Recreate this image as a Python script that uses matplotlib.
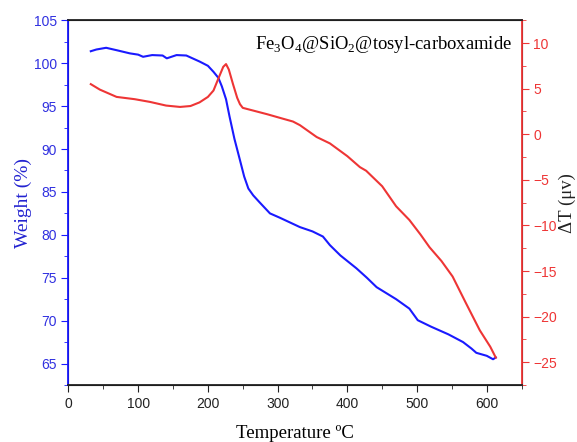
import matplotlib
matplotlib.use("Agg")
import matplotlib.pyplot as plt
from matplotlib.ticker import MultipleLocator

# weight loss curve (TGA)
temp_w = [32, 40, 54, 70, 88, 100, 107, 120, 135, 141, 155, 169, 188, 200,
          208, 215, 220, 226, 231, 238, 246, 252, 258, 265, 274, 289, 303,
          332, 350, 365, 375, 390, 413, 428, 442, 456, 470, 489, 501, 520,
          545, 566, 578, 585, 600, 609, 613]
weight = [101.4, 101.6, 101.8, 101.5, 101.15, 101.0, 100.75, 100.95, 100.9,
          100.57, 100.95, 100.9, 100.2, 99.7, 99.0, 98.3, 97.3, 95.8, 93.8,
          91.2, 88.7, 86.8, 85.4, 84.6, 83.8, 82.5, 82.0, 80.9, 80.4, 79.8,
          78.8, 77.6, 76.1, 75.0, 73.9, 73.2, 72.5, 71.4, 70.05, 69.3, 68.4,
          67.5, 66.75, 66.25, 65.9, 65.5, 65.7]

# DTA curve
temp_dt = [32, 45, 69, 95, 117, 140, 160, 175, 188, 200, 208, 216, 222, 226,
           230, 236, 242, 246, 250, 265, 285, 308, 322, 332, 356, 375, 400,
           418, 427, 450, 470, 489, 505, 518, 535, 551, 570, 590, 605, 613]
delta_t = [5.5, 4.9, 4.1, 3.85, 3.55, 3.15, 3.0, 3.1, 3.5, 4.1, 4.8, 6.3, 7.4,
           7.7, 7.1, 5.5, 4.0, 3.3, 2.9, 2.6, 2.2, 1.7, 1.4, 1.0, -0.3, -1.0,
           -2.4, -3.6, -4.0, -5.7, -7.9, -9.4, -11.0, -12.4, -13.9, -15.6,
           -18.5, -21.5, -23.3, -24.5]

blue = "#1a1aff"
blue_txt = "#3030e0"
red = "#ee3535"

plt.rcParams["mathtext.fontset"] = "custom"
plt.rcParams["mathtext.rm"] = "Liberation Serif"

fig = plt.figure(figsize=(5.77, 4.42), dpi=100)
ax = fig.add_axes([0.1187, 0.129, 0.904 - 0.1187, 0.954 - 0.129])
ax2 = ax.twinx()

ax.plot(temp_w, weight, color=blue, lw=1.5)
ax2.plot(temp_dt, delta_t, color=red, lw=1.5)

ax.set_xlim(0, 650)
ax.set_ylim(62.5, 105)
ax2.set_ylim(-27.5, 12.5)

ax.xaxis.set_major_locator(MultipleLocator(100))
ax.xaxis.set_minor_locator(MultipleLocator(50))
ax.yaxis.set_major_locator(MultipleLocator(5))
ax.yaxis.set_minor_locator(MultipleLocator(2.5))
ax2.yaxis.set_major_locator(MultipleLocator(5))
ax2.yaxis.set_minor_locator(MultipleLocator(2.5))

ax.tick_params(axis="x", which="both", direction="out", labelsize=10,
               labelcolor="#222222", colors="#222222")
ax.tick_params(axis="x", which="major", length=5)
ax.tick_params(axis="x", which="minor", length=3)
ax.tick_params(axis="y", which="both", direction="out", colors=blue,
               labelcolor=blue_txt, labelsize=10)
ax.tick_params(axis="y", which="major", length=5)
ax.tick_params(axis="y", which="minor", length=3)
ax2.tick_params(axis="y", which="both", direction="out", colors=red,
                labelcolor=red, labelsize=10)
ax2.tick_params(axis="y", which="major", length=5)
ax2.tick_params(axis="y", which="minor", length=3)

for t in ax.get_xticklabels() + ax.get_yticklabels() + ax2.get_yticklabels():
    t.set_fontfamily("Liberation Sans")

ax2.spines["left"].set_color(blue)
ax2.spines["right"].set_color(red)
ax2.spines["top"].set_color("#222222")
ax2.spines["bottom"].set_color("#222222")
for s in ax2.spines.values():
    s.set_linewidth(1.3)

ax.set_xlabel("Temperature ºC", fontfamily="Liberation Serif", fontsize=13.5,
              labelpad=10)
ax.set_ylabel("Weight (%)", fontfamily="Liberation Serif", fontsize=14,
              color="#2222d0", labelpad=1)
ax2.set_ylabel("ΔT (μv)", fontfamily="Liberation Serif", fontsize=13.5,
               color="#222222", labelpad=1)

ax.text(0.978, 0.935, r"Fe$_3$O$_4$@SiO$_2$@tosyl-carboxamide",
        transform=ax.transAxes, ha="right", va="center", fontsize=13.4,
        fontfamily="Liberation Serif")

fig.savefig("out.png", dpi=100)
